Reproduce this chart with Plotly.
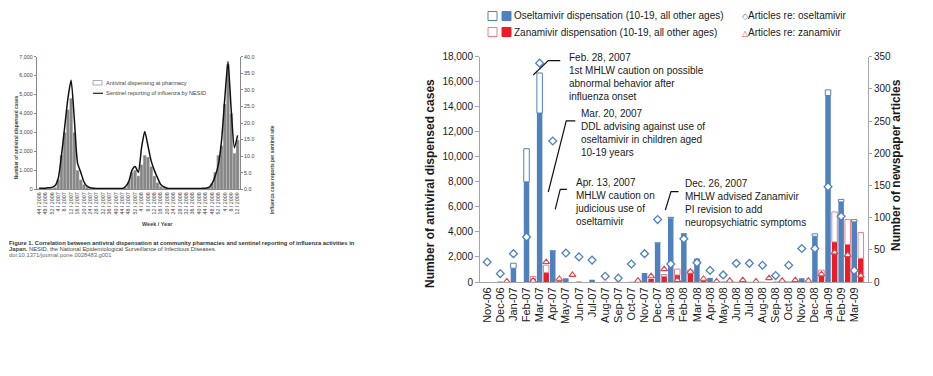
import plotly.graph_objects as go

# ---------------- main chart data ----------------
months = ["Nov-06", "Dec-06", "Jan-07", "Feb-07", "Mar-07", "Apr-07", "May-07", "Jun-07",
          "Jul-07", "Aug-07", "Sep-07", "Oct-07", "Nov-07", "Dec-07", "Jan-08", "Feb-08",
          "Mar-08", "Apr-08", "May-08", "Jun-08", "Jul-08", "Aug-08", "Sep-08", "Oct-08",
          "Nov-08", "Dec-08", "Jan-09", "Feb-09", "Mar-09"]

# Oseltamivir dispensation: all other ages (filled) and 10-19 (outlined, stacked on top)
osel_other = [0, 40, 1100, 8000, 13500, 2450, 300, 40, 180, 20, 20, 20, 720, 3100, 5100, 3800,
              1800, 330, 40, 20, 20, 20, 30, 40, 300, 3650, 14900, 6400, 4800]
osel_teen = [0, 0, 400, 2650, 3200, 50, 0, 0, 0, 0, 0, 0, 0, 30, 70, 60,
             30, 0, 0, 0, 0, 0, 0, 0, 0, 200, 450, 200, 180]

# Zanamivir dispensation: all other ages (filled) and 10-19 (outlined)
zan_other = [0, 0, 0, 250, 750, 80, 0, 0, 0, 0, 0, 0, 250, 450, 560, 720,
             120, 0, 0, 0, 0, 0, 0, 0, 0, 600, 3200, 3000, 1900]
zan_teen = [0, 0, 0, 200, 600, 30, 0, 0, 0, 0, 0, 0, 0, 150, 470, 240,
            30, 0, 0, 0, 0, 0, 0, 0, 0, 350, 2400, 2000, 2050]

# Newspaper articles (right axis)
osel_articles = [31, 13, 44, 70, 340, 219, 45, 39, 34, 9, 6, 28, 44, 97, 28, 67,
                 30, 18, 11, 29, 29, 26, 10, 26, 52, 52, 148, 102, 18]
zan_articles = [None, 1, None, 2, 31, 5, 11, None, None, None, None, 2, 9, 20, 3, 16,
                5, 1, 2, 3, 1, 6, 2, 3, 2, 12, 46, 42, 10]

left_ticks = [0, 2000, 4000, 6000, 8000, 10000, 12000, 14000, 16000, 18000]
right_ticks = [0, 50, 100, 150, 200, 250, 300, 350]

# ---------------- inset (Figure 1 thumbnail) data ----------------
inset_weeks = [0, 2, 4, 6, 8, 10, 12, 14, 16, 18, 20, 22, 24, 26, 28, 30, 32, 34, 36, 38,
               40, 42, 44, 46, 48, 50, 52, 54, 56, 58, 60, 62, 64, 66, 68, 70, 72, 74, 76, 78,
               80, 82, 84, 86, 88, 90, 92, 94, 96, 98, 100, 102, 104, 106, 108, 110, 112, 114,
               116, 118, 120, 122, 124]
inset_dispensing = [30, 30, 40, 40, 50, 100, 500, 1800, 3000, 4200, 4800, 3000, 1000, 500, 250,
                    100, 50, 30, 20, 20, 20, 20, 20, 20, 20, 30, 50, 100, 400, 900, 1000, 700,
                    1300, 1800, 1700, 1200, 700, 350, 150, 60, 30, 20, 20, 20, 20, 20, 20, 20,
                    20, 20, 20, 30, 50, 100, 300, 900, 1800, 2300, 4500, 6600, 4000, 1900, 2600]
inset_sentinel = [0.29, 0.29, 0.34, 0.46, 0.57, 1.14, 3.43, 10.29, 18.86, 27.43, 32.86, 21.14,
                  8.0, 5.14, 2.29, 0.86, 0.46, 0.29, 0.23, 0.23, 0.23, 0.23, 0.23, 0.23, 0.23,
                  0.23, 0.23, 0.86, 2.29, 5.71, 6.86, 5.14, 12.57, 17.43, 13.14, 8.57, 5.71,
                  3.43, 1.43, 0.69, 0.34, 0.23, 0.23, 0.23, 0.23, 0.23, 0.23, 0.23, 0.23, 0.23,
                  0.23, 0.29, 0.34, 0.57, 1.71, 4.0, 7.43, 14.86, 27.43, 38.57, 24.0, 12.57, 16.29]
inset_tick_weeks = [0, 4, 8, 12, 16, 20, 24, 28, 32, 36, 40, 44, 48, 52, 56, 60, 64, 68, 72,
                    76, 80, 84, 88, 92, 96, 100, 104, 108, 112, 116, 120, 124]
inset_tick_labels = ["44 / 2006", "48 / 2006", "52 / 2006", "4 / 2007", "8 / 2007", "12 / 2007",
                     "16 / 2007", "20 / 2007", "24 / 2007", "28 / 2007", "32 / 2007", "36 / 2007",
                     "40 / 2007", "44 / 2007", "48 / 2007", "52 / 2007", "4 / 2008", "8 / 2008",
                     "12 / 2008", "16 / 2008", "20 / 2008", "24 / 2008", "28 / 2008", "32 / 2008",
                     "36 / 2008", "40 / 2008", "44 / 2008", "48 / 2008", "52 / 2008", "4 / 2009",
                     "8 / 2009", "12 / 2009"]

# ---------------- styling ----------------
W, H = 933, 376
FONT = "Liberation Sans, Arial, sans-serif"
BLUE = "#4F81BD"
RED = "#EE1C25"
RED_OUT = "#EE7F84"
TRI = "#E0454B"
AXIS = "#A6A6A6"
TXT = "#1a1a1a"
INSET_TXT = "#444444"


def px(x):
    return x / W


def py(y):
    return 1 - y / H


def nz(v):
    return [None if (a is None or a == 0) else a for a in v]


month_idx = list(range(len(months)))
zan_x = [i + 0.5 for i in month_idx]

fig = go.Figure()

# main chart bars
fig.add_trace(go.Bar(x=month_idx, y=nz(osel_other), base=0, width=0.42,
                     marker=dict(color=BLUE, line=dict(width=0)), xaxis="x", yaxis="y"))
fig.add_trace(go.Bar(x=month_idx, y=nz(osel_teen), base=osel_other, width=0.42,
                     marker=dict(color="white", line=dict(color=BLUE, width=1)),
                     xaxis="x", yaxis="y"))
fig.add_trace(go.Bar(x=zan_x, y=nz(zan_other), base=0, width=0.42,
                     marker=dict(color=RED, line=dict(width=0)), xaxis="x", yaxis="y"))
fig.add_trace(go.Bar(x=zan_x, y=nz(zan_teen), base=zan_other, width=0.42,
                     marker=dict(color="white", line=dict(color=RED_OUT, width=1)),
                     xaxis="x", yaxis="y"))
# article markers
fig.add_trace(go.Scatter(x=month_idx, y=osel_articles, mode="markers", xaxis="x", yaxis="y2",
                         marker=dict(symbol="diamond", size=6, color="white",
                                     line=dict(color=BLUE, width=1.3))))
fig.add_trace(go.Scatter(x=zan_x, y=zan_articles, mode="markers", xaxis="x", yaxis="y2",
                         marker=dict(symbol="triangle-up", size=6, color="white",
                                     line=dict(color=TRI, width=1.1))))

# inset chart
fig.add_trace(go.Bar(x=inset_weeks, y=inset_dispensing, width=2, xaxis="x2", yaxis="y3",
                     marker=dict(color="#858585", line=dict(color="#D0D0D0", width=0.4))))
fig.add_trace(go.Scatter(x=inset_weeks, y=inset_sentinel, mode="lines", xaxis="x2", yaxis="y4",
                         line=dict(color="#111111", width=1.5, shape="spline", smoothing=0.6)))

annotations = []
shapes = []

# ---- main chart event annotations (text in paper coords, leader lines in data coords) ----
events = [
    ("Feb. 28, 2007<br>1st MHLW caution on possible<br>abnormal behavior after<br>influenza onset",
     567, 50, [(3.51, 16540), (4.66, 17683), (5.57, 17683)]),
    ("Mar. 20, 2007<br>DDL advising against use of<br>oseltamivir in children aged<br>10-19 years",
     579, 106, [(4.66, 7192), (6.03, 12865), (6.72, 12865)]),
    ("Apr. 13, 2007<br>MHLW caution on<br>judicious use of<br>oseltamivir",
     573, 175, [(5.19, 5809), (5.57, 7407), (6.08, 7407)]),
    ("Dec. 26, 2007<br>MHLW advised Zanamivir<br>PI revision to add<br>neuropsychiatric symptoms",
     683, 176, [(13.59, 5753), (14.02, 7215), (14.60, 7215)]),
]
for text, tx, ty, pts in events:
    annotations.append(dict(x=px(tx), y=py(ty), xref="paper", yref="paper", text=text,
                            showarrow=False, xanchor="left", yanchor="top", align="left",
                            font=dict(size=10, color=TXT, family=FONT)))
    path = "M %f,%f " % pts[0] + " ".join("L %f,%f" % p for p in pts[1:])
    shapes.append(dict(type="path", path=path, xref="x", yref="y",
                       line=dict(color="#111111", width=1.2)))


# ---- main legend (custom) ----
def box(x0, y0, fill, line):
    shapes.append(dict(type="rect", xref="paper", yref="paper",
                       x0=px(x0), x1=px(x0 + 9), y0=py(y0 + 4.5), y1=py(y0 - 4.5),
                       fillcolor=fill, line=dict(color=line, width=1)))


box(488, 16, "white", BLUE)
box(502, 16, BLUE, BLUE)
box(488, 32, "white", RED_OUT)
box(502, 32, RED, RED)
annotations += [
    dict(x=px(512), y=py(16), xref="paper", yref="paper", xanchor="left", yanchor="middle",
         text="Oseltamivir dispensation (10-19, all other ages)", showarrow=False,
         font=dict(size=10, color=TXT, family=FONT)),
    dict(x=px(512), y=py(32), xref="paper", yref="paper", xanchor="left", yanchor="middle",
         text="Zanamivir dispensation (10-19, all other ages)", showarrow=False,
         font=dict(size=10, color=TXT, family=FONT)),
    dict(x=px(740), y=py(16), xref="paper", yref="paper", xanchor="left", yanchor="middle",
         text="<span style='color:%s;font-size:8px'>◇</span>Articles re: oseltamivir" % BLUE,
         showarrow=False, font=dict(size=10, color=TXT, family=FONT)),
    dict(x=px(740), y=py(32), xref="paper", yref="paper", xanchor="left", yanchor="middle",
         text="<span style='color:%s;font-size:8px'>△</span>Articles re: zanamivir" % TRI,
         showarrow=False, font=dict(size=10, color=TXT, family=FONT)),
    # axis titles
    dict(x=px(430), y=py(184), xref="paper", yref="paper", textangle=-90, showarrow=False,
         text="<b>Number of antiviral dispensed cases</b>",
         font=dict(size=12, color=TXT, family=FONT)),
    dict(x=px(905), y=py(165), xref="paper", yref="paper", textangle=-90, showarrow=False,
         text="<b>Number of newspaper articles</b>",
         font=dict(size=12, color=TXT, family=FONT)),
]

# ---- inset legend, titles, caption ----
shapes.append(dict(type="rect", xref="paper", yref="paper", x0=px(93), x1=px(102),
                   y0=py(85), y1=py(80.5), fillcolor="white", line=dict(color="#777", width=0.6)))
shapes.append(dict(type="line", xref="paper", yref="paper", x0=px(93), x1=px(103),
                   y0=py(93.3), y1=py(93.3), line=dict(color="#222", width=1.2)))
annotations += [
    dict(x=px(103.5), y=py(82.8), xref="paper", yref="paper", xanchor="left", yanchor="middle",
         text="Antiviral dispensing at pharmacy", showarrow=False,
         font=dict(size=5.6, color=INSET_TXT, family=FONT)),
    dict(x=px(103.5), y=py(93.3), xref="paper", yref="paper", xanchor="left", yanchor="middle",
         text="Sentinel reporting of influenza by NESID", showarrow=False,
         font=dict(size=5.6, color=INSET_TXT, family=FONT)),
    dict(x=px(12.7), y=py(137), xref="paper", yref="paper", textangle=-90, showarrow=False,
         text="<b>Number of antiviral dispensed cases</b>",
         font=dict(size=4.8, color=INSET_TXT, family=FONT)),
    dict(x=px(268), y=py(123), xref="paper", yref="paper", textangle=-90, showarrow=False,
         text="<b>Influenza case reports per sentinel site</b>",
         font=dict(size=4.8, color=INSET_TXT, family=FONT)),
    dict(x=px(140), y=py(224), xref="paper", yref="paper", showarrow=False,
         text="<b>Week / Year</b>", font=dict(size=5.5, color=INSET_TXT, family=FONT)),
    dict(x=px(7), y=py(242.7), xref="paper", yref="paper", xanchor="left", yanchor="middle",
         showarrow=False,
         text="<b>Figure 1. Correlation between antiviral dispensation at community pharmacies "
              "and sentinel reporting of influenza activities in</b>",
         font=dict(size=5.8, color="#333", family=FONT)),
    dict(x=px(7), y=py(248.8), xref="paper", yref="paper", xanchor="left", yanchor="middle",
         showarrow=False,
         text="<b>Japan.</b> NESID, the National Epidemiological Surveillance of Infectious Diseases.",
         font=dict(size=5.8, color="#444", family=FONT)),
    dict(x=px(7), y=py(254.6), xref="paper", yref="paper", xanchor="left", yanchor="middle",
         showarrow=False, text="doi:10.1371/journal.pone.0028483.g001",
         font=dict(size=5.8, color="#666", family=FONT)),
]

fig.update_layout(
    width=W, height=H, margin=dict(l=0, r=0, t=0, b=0, pad=0, autoexpand=False),
    paper_bgcolor="white", plot_bgcolor="rgba(0,0,0,0)",
    barmode="overlay", showlegend=False, hovermode=False,
    font=dict(family=FONT, color=TXT),
    xaxis=dict(domain=[px(480), px(868)], anchor="y", range=[-0.55, 29.05], automargin=False,
               tickmode="array", tickvals=month_idx, ticktext=months, tickangle=-90,
               tickfont=dict(size=11, color=TXT), showline=True, linecolor=AXIS, linewidth=1,
               ticks="", showgrid=False, zeroline=False),
    yaxis=dict(domain=[py(282), py(56.7)], anchor="x", range=[0, 18000], automargin=False,
               tickmode="array", tickvals=left_ticks, tickformat=",",
               tickfont=dict(size=10, color=TXT), showline=True, linecolor=AXIS,
               ticks="outside", ticklen=4, tickcolor=AXIS, showgrid=False, zeroline=False),
    yaxis2=dict(overlaying="y", side="right", anchor="x", range=[0, 350], automargin=False,
                tickmode="array", tickvals=right_ticks,
                tickfont=dict(size=10, color=TXT), showline=True, linecolor=AXIS,
                ticks="outside", ticklen=3, tickcolor=AXIS, showgrid=False, zeroline=False),
    xaxis2=dict(domain=[px(36.7), px(240)], anchor="y3", range=[-1.5, 125.5], automargin=False,
                tickmode="array", tickvals=inset_tick_weeks, ticktext=inset_tick_labels,
                tickangle=-90, tickfont=dict(size=5.3, color=INSET_TXT),
                showline=True, linecolor="#888", ticks="", showgrid=False, zeroline=False),
    yaxis3=dict(domain=[py(189.3), py(56.7)], anchor="x2", range=[0, 7000], dtick=1000,
                automargin=False,
                tickformat=",", tickfont=dict(size=5.3, color=INSET_TXT),
                showline=True, linecolor="#888", ticks="outside", ticklen=2, tickcolor="#888",
                showgrid=False, zeroline=False),
    yaxis4=dict(overlaying="y3", side="right", anchor="x2", range=[0, 40], dtick=5,
                automargin=False,
                tickformat=".1f", tickfont=dict(size=5.3, color=INSET_TXT),
                showline=True, linecolor="#888", ticks="outside", ticklen=2, tickcolor="#888",
                showgrid=False, zeroline=False),
    annotations=annotations,
    shapes=shapes,
)

fig.write_html("out.html", config={"displayModeBar": False, "staticPlot": True},
               post_script="document.body.style.margin='0';document.body.style.overflow='hidden';")
